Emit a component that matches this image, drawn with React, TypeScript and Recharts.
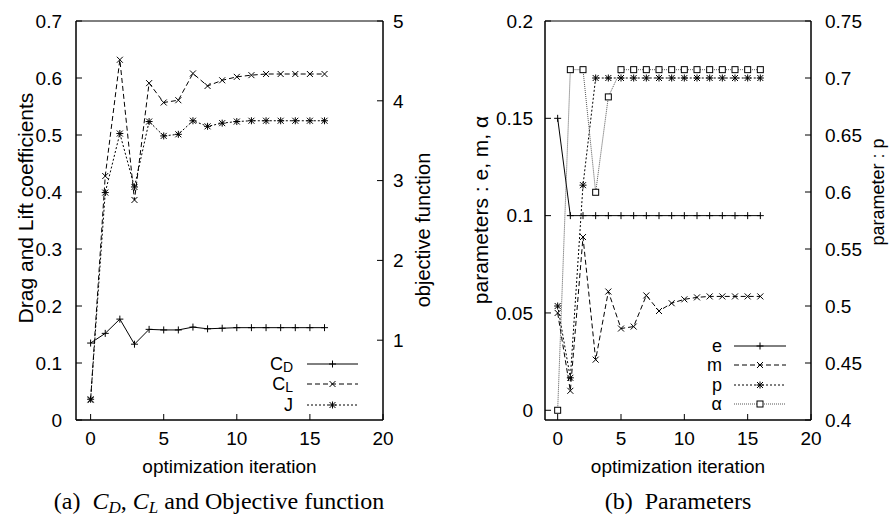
import React from 'react';
import { LineChart, Line, XAxis, YAxis, ReferenceArea, Legend } from 'recharts';

const iterations = [0, 1, 2, 3, 4, 5, 6, 7, 8, 9, 10, 11, 12, 13, 14, 15, 16];

// (a) drag / lift coefficients and objective function
const cdValues = [0.135, 0.152, 0.177, 0.133, 0.159, 0.158, 0.158, 0.163, 0.16, 0.161, 0.162, 0.162, 0.162, 0.162, 0.162, 0.162, 0.162];
const clValues = [0.035, 0.428, 0.632, 0.386, 0.591, 0.557, 0.561, 0.608, 0.586, 0.596, 0.602, 0.605, 0.607, 0.607, 0.607, 0.607, 0.607];
const jValues = [0.26, 2.85, 3.59, 2.92, 3.74, 3.56, 3.58, 3.75, 3.68, 3.72, 3.74, 3.75, 3.75, 3.75, 3.75, 3.75, 3.75];

// (b) parameters
const eValues = [0.15, 0.1, 0.1, 0.1, 0.1, 0.1, 0.1, 0.1, 0.1, 0.1, 0.1, 0.1, 0.1, 0.1, 0.1, 0.1, 0.1];
const mValues = [0.05, 0.01, 0.089, 0.026, 0.061, 0.042, 0.043, 0.059, 0.051, 0.055, 0.057, 0.058, 0.0585, 0.0585, 0.0585, 0.0585, 0.0585];
const pValues = [0.5, 0.437, 0.606, 0.7, 0.7, 0.7, 0.7, 0.7, 0.7, 0.7, 0.7, 0.7, 0.7, 0.7, 0.7, 0.7, 0.7];
const alphaValues = [0, 0.175, 0.175, 0.112, 0.161, 0.175, 0.175, 0.175, 0.175, 0.175, 0.175, 0.175, 0.175, 0.175, 0.175, 0.175, 0.175];

const xTicks = [0, 5, 10, 15, 20];
const coefTicks = [0, 0.1, 0.2, 0.3, 0.4, 0.5, 0.6, 0.7];
const objTicks = [1, 2, 3, 4, 5];
const paramTicks = [0, 0.05, 0.1, 0.15, 0.2];
const pTicks = [0.4, 0.45, 0.5, 0.55, 0.6, 0.65, 0.7, 0.75];

const dataA = iterations.map((it, i) => ({ it, cd: cdValues[i], cl: clValues[i], j: jValues[i] }));
const dataB = iterations.map((it, i) => ({ it, e: eValues[i], m: mValues[i], p: pValues[i], alpha: alphaValues[i] }));

const FONT = '"Liberation Sans", Arial, Helvetica, sans-serif';
const SERIF = '"Liberation Serif", "Times New Roman", serif';
const INK = '#000';

type Mark = 'plus' | 'cross' | 'star' | 'square';

// gnuplot style point symbols
const Marker = ({ kind, cx, cy }: { kind: Mark; cx?: number; cy?: number }) => {
  if (cx == null || cy == null) return null;
  const s = 3.5;
  const c = 3;
  const plus = (
    <>
      <line x1={cx - s} y1={cy} x2={cx + s} y2={cy} />
      <line x1={cx} y1={cy - s} x2={cx} y2={cy + s} />
    </>
  );
  const cross = (
    <>
      <line x1={cx - c} y1={cy - c} x2={cx + c} y2={cy + c} />
      <line x1={cx - c} y1={cy + c} x2={cx + c} y2={cy - c} />
    </>
  );
  return (
    <g stroke={INK} strokeWidth={1} fill="none">
      {kind === 'plus' && plus}
      {kind === 'cross' && cross}
      {kind === 'star' && (<>{plus}{cross}</>)}
      {kind === 'square' && <rect x={cx - 3} y={cy - 3} width={6} height={6} fill="#fff" />}
    </g>
  );
};

const dotOf = (kind: Mark) => (props: any) => (
  <Marker key={`${kind}-${props.index}`} kind={kind} cx={props.cx} cy={props.cy} />
);

const tickStyle = { fill: INK, fontSize: 19, fontFamily: FONT };

const vLabel = (text: string, x: number, y: number, size = 21) => () => (
  <text x={x} y={y} transform={`rotate(-90 ${x} ${y})`} textAnchor="middle" dominantBaseline="central"
    fontSize={size} fontFamily={FONT} fill={INK}>{text}</text>
);

interface LegendItem { label: string; sub?: string; dash?: string; color?: string; kind: Mark }
interface LegendGeom { w: number; h: number; textRight: number; x1: number; x2: number; rows: number[] }

const makeLegend = (items: LegendItem[], g: LegendGeom) => () => (
  <svg width={g.w} height={g.h} style={{ overflow: 'visible' }}>
    {items.map((it, i) => {
      const y = g.rows[i];
      return (
        <g key={it.label + (it.sub || '')}>
          <text x={g.textRight} y={y} textAnchor="end" dominantBaseline="central" fontSize={18} fontFamily={FONT} fill={INK}>
            {it.label}
            {it.sub && <tspan dy={3} fontSize={14}>{it.sub}</tspan>}
          </text>
          <line x1={g.x1} x2={g.x2} y1={y} y2={y} stroke={it.color || INK} strokeWidth={1} strokeDasharray={it.dash} />
          <Marker kind={it.kind} cx={(g.x1 + g.x2) / 2} cy={y} />
        </g>
      );
    })}
  </svg>
);

const legendA: LegendItem[] = [
  { label: 'C', sub: 'D', kind: 'plus' },
  { label: 'C', sub: 'L', dash: '5 3', kind: 'cross' },
  { label: 'J', dash: '2 2', kind: 'star' },
];

const legendB: LegendItem[] = [
  { label: 'e', kind: 'plus' },
  { label: 'm', dash: '5 3', kind: 'cross' },
  { label: 'p', dash: '2 2', kind: 'star' },
  { label: 'α', dash: '1 1', color: '#555', kind: 'square' },
];

const W_A = 440;
const W_B = 449;
const H = 516;
const legendWrap = (w: number) => ({ position: 'absolute' as const, left: 0, top: 0, width: w, height: H, pointerEvents: 'none' as const });

const CoefficientsChart = () => (
  <LineChart width={W_A} height={H} data={dataA} margin={{ top: 21, right: 0, bottom: 36, left: 0 }}>
    <XAxis dataKey="it" type="number" domain={[-1, 20]} ticks={xTicks} interval={0} allowDataOverflow
      height={60} tickSize={-6} tickMargin={18} stroke={INK} tick={tickStyle}
      label={{ value: 'optimization iteration', position: 'insideBottom', offset: 7, fill: INK, fontSize: 19, fontFamily: FONT }} />
    <YAxis yAxisId="left" domain={[0, 0.7]} ticks={coefTicks} interval={0} allowDataOverflow width={76}
      tickSize={-6} tickMargin={20} stroke={INK} tick={tickStyle} label={vLabel('Drag and Lift coefficients', 25, 208, 21)} />
    <YAxis yAxisId="right" orientation="right" domain={[0, 5]} ticks={objTicks} interval={0} allowDataOverflow width={57}
      tickSize={-6} tickMargin={16} stroke={INK} tick={tickStyle} label={vLabel('objective function', 423, 230, 20)} />
    <ReferenceArea yAxisId="left" x1={-1} x2={20} y1={0} y2={0.7} fill="none" stroke={INK} strokeWidth={1} ifOverflow="visible" />
    <Line yAxisId="left" dataKey="cd" stroke={INK} strokeWidth={1} dot={dotOf('plus')} activeDot={false} isAnimationActive={false} />
    <Line yAxisId="left" dataKey="cl" stroke={INK} strokeWidth={1} strokeDasharray="5 3" dot={dotOf('cross')} activeDot={false} isAnimationActive={false} />
    <Line yAxisId="right" dataKey="j" stroke={INK} strokeWidth={1} strokeDasharray="2 2" dot={dotOf('star')} activeDot={false} isAnimationActive={false} />
    <Legend layout="horizontal" verticalAlign="middle" align="center" wrapperStyle={legendWrap(W_A)}
      content={makeLegend(legendA, { w: W_A, h: H, textRight: 293, x1: 307, x2: 358, rows: [364, 384, 405] })} />
  </LineChart>
);

const ParametersChart = () => (
  <LineChart width={W_B} height={H} data={dataB} margin={{ top: 21, right: 0, bottom: 36, left: 0 }}>
    <XAxis dataKey="it" type="number" domain={[-1, 20]} ticks={xTicks} interval={0} allowDataOverflow
      height={60} tickSize={-6} tickMargin={18} stroke={INK} tick={tickStyle}
      label={{ value: 'optimization iteration', position: 'insideBottom', offset: 7, fill: INK, fontSize: 19, fontFamily: FONT }} />
    <YAxis yAxisId="left" domain={[-0.005, 0.2]} ticks={paramTicks} interval={0} allowDataOverflow width={105}
      tickSize={-6} tickMargin={18} stroke={INK} tick={tickStyle} label={vLabel('parameters : e, m, α', 40, 210, 21)} />
    <YAxis yAxisId="right" orientation="right" domain={[0.4, 0.75]} ticks={pTicks} interval={0} allowDataOverflow width={78}
      tickSize={-6} tickMargin={20} stroke={INK} tick={tickStyle} label={vLabel('parameter : p', 438, 192, 18)} />
    <ReferenceArea yAxisId="left" x1={-1} x2={20} y1={-0.005} y2={0.2} fill="none" stroke={INK} strokeWidth={1} ifOverflow="visible" />
    <Line yAxisId="left" dataKey="e" stroke={INK} strokeWidth={1} dot={dotOf('plus')} activeDot={false} isAnimationActive={false} />
    <Line yAxisId="left" dataKey="m" stroke={INK} strokeWidth={1} strokeDasharray="5 3" dot={dotOf('cross')} activeDot={false} isAnimationActive={false} />
    <Line yAxisId="right" dataKey="p" stroke={INK} strokeWidth={1} strokeDasharray="2 2" dot={dotOf('star')} activeDot={false} isAnimationActive={false} />
    <Line yAxisId="left" dataKey="alpha" stroke="#555" strokeWidth={1} strokeDasharray="1 1" dot={dotOf('square')} activeDot={false} isAnimationActive={false} />
    <Legend layout="horizontal" verticalAlign="middle" align="center" wrapperStyle={legendWrap(W_B)}
      content={makeLegend(legendB, { w: W_B, h: H, textRight: 282, x1: 294, x2: 346, rows: [346, 365, 385, 404] })} />
  </LineChart>
);

const captionStyle = (center: number): React.CSSProperties => ({
  position: 'absolute', left: center - 220, width: 440, top: 487, textAlign: 'center',
  fontFamily: SERIF, fontSize: 24, lineHeight: '28px', color: INK, whiteSpace: 'nowrap',
});

const subStyle: React.CSSProperties = { position: 'relative', top: 4, fontSize: 17, fontStyle: 'italic' };

export default function App() {
  return (
    <div style={{ position: 'absolute', left: 0, top: 0, width: 889, height: 516, background: '#fff', overflow: 'hidden' }}>
      <div style={{ position: 'absolute', left: 0, top: 0 }}>
        <CoefficientsChart />
      </div>
      <div style={{ position: 'absolute', left: 440, top: 0 }}>
        <ParametersChart />
      </div>
      <div style={captionStyle(219)}>
        (a)&nbsp;&nbsp;<i>C</i><span style={subStyle}>D</span>, <i>C</i><span style={subStyle}>L</span> and Objective function
      </div>
      <div style={captionStyle(678)}>(b)&nbsp;&nbsp;Parameters</div>
    </div>
  );
}
